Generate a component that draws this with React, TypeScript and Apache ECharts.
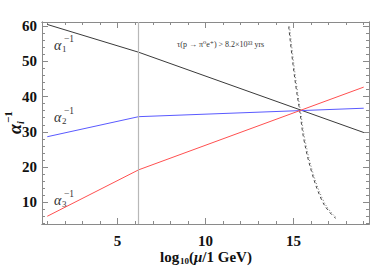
import React, { useEffect, useRef } from "react";
import * as echarts from "echarts";

const xKinks = [1, 6.2, 19];
const alpha1 = [60.5, 52.6, 29.8];
const alpha2 = [28.6, 34.3, 36.7];
const alpha3 = [6.0, 19.2, 42.7];
const vLineX = 6.2;
const boundX = [14.73, 14.98, 15.17, 15.36, 15.6, 16.06, 16.6, 17.0, 17.4];
const boundY = [59.9, 49, 41.9, 35.9, 27.7, 18.2, 10.7, 7.5, 5.4];
const boundX2 = [14.78, 15.03, 15.22, 15.4, 15.66, 16.12, 16.68, 17.08, 17.48];
const xMajor = [5, 10, 15];
const xMinor = [1, 2, 3, 4, 6, 7, 8, 9, 11, 12, 13, 14, 16, 17, 18, 19];
const yMajor = [10, 20, 30, 40, 50, 60];
const yMinor = [4, 6, 8, 12, 14, 16, 18, 22, 24, 26, 28, 32, 34, 36, 38, 42, 44, 46, 48, 52, 54, 56, 58];
const alphaLabels = ["1", "2", "3"];

const X_MIN = 0.7, X_MAX = 19.3, Y_MIN = 3.8, Y_MAX = 61.2;
const FRAME = "#8a8a8a";
const SERIF = "'Liberation Serif', 'DejaVu Serif', serif";

function xAxisDef(position: "bottom" | "top", ticks: number[], len: number, labels: boolean) {
  return {
    type: "value", position, min: X_MIN, max: X_MAX,
    axisLine: { show: true, onZero: false, lineStyle: { color: FRAME, width: 1 } },
    axisTick: { show: true, inside: true, length: len, customValues: ticks, lineStyle: { color: FRAME } },
    axisLabel: labels
      ? { show: true, customValues: ticks, margin: 9, fontFamily: SERIF, fontWeight: "bold", fontSize: 15, color: "#111" }
      : { show: false },
    splitLine: { show: false },
  };
}
function yAxisDef(position: "left" | "right", ticks: number[], len: number, labels: boolean) {
  return {
    type: "value", position, min: Y_MIN, max: Y_MAX,
    axisLine: { show: true, onZero: false, lineStyle: { color: FRAME, width: 1 } },
    axisTick: { show: true, inside: true, length: len, customValues: ticks, lineStyle: { color: FRAME } },
    axisLabel: labels
      ? { show: true, customValues: ticks, margin: 5, fontFamily: SERIF, fontWeight: "bold", fontSize: 15, color: "#111" }
      : { show: false },
    splitLine: { show: false },
  };
}

function alphaLabel(sub: string, x: number, y: number) {
  return {
    type: "group",
    x, y,
    children: [
      { type: "text", x: 0, y: 0, style: { text: "α", fontFamily: SERIF, fontStyle: "italic", fontSize: 14, fill: "#333", verticalAlign: "middle" } },
      { type: "text", x: 8, y: 4, style: { text: sub, fontFamily: SERIF, fontSize: 9, fill: "#333", verticalAlign: "middle" } },
      { type: "text", x: 10, y: -6, style: { text: "−1", fontFamily: SERIF, fontSize: 9.5, fill: "#333", verticalAlign: "middle" } },
    ],
  };
}

export default function App() {
  const ref = useRef<HTMLDivElement>(null);
  useEffect(() => {
    if (!ref.current) return;
    const chart = echarts.init(ref.current, null, { renderer: "svg" });
    const line = (vals: number[], color: string) => ({
      type: "line",
      data: xKinks.map((x, i) => [x, vals[i]]),
      symbol: "none",
      lineStyle: { color, width: 1 },
      z: 3,
    });
    chart.setOption({
      animation: false,
      grid: { left: 42, top: 22, right: 22, bottom: 43, outerBoundsMode: "none", containLabel: false },
      xAxis: [
        xAxisDef("bottom", xMajor, 6, true),
        xAxisDef("bottom", xMinor, 3, false),
        xAxisDef("top", xMajor, 6, false),
        xAxisDef("top", xMinor, 3, false),
      ],
      yAxis: [
        yAxisDef("left", yMajor, 6, true),
        yAxisDef("left", yMinor, 3, false),
        yAxisDef("right", yMajor, 6, false),
        yAxisDef("right", yMinor, 3, false),
      ],
      series: [
        {
          ...line(alpha1, "#3a3a3a"),
          markLine: {
            silent: true,
            symbol: "none",
            label: { show: false },
            lineStyle: { color: "#b8b8b8", width: 1.2, type: "solid" },
            data: [{ xAxis: vLineX }],
          },
        },
        line(alpha2, "#5a5aff"),
        line(alpha3, "#ff5050"),
        {
          type: "line",
          data: boundX.map((x, i) => [x, boundY[i]]),
          symbol: "none",
          smooth: 0.4,
          lineStyle: { color: "#444", width: 1, type: [3, 3] },
          z: 2,
        },
        {
          type: "line",
          data: boundX2.map((x, i) => [x, boundY[i]]),
          symbol: "none",
          smooth: 0.4,
          lineStyle: { color: "#777", width: 1, type: [1, 2] },
          z: 2,
        },
      ],
      graphic: [
        alphaLabel(alphaLabels[0], 54, 45),
        alphaLabel(alphaLabels[1], 54, 117),
        alphaLabel(alphaLabels[2], 54, 200),
        {
          type: "group", x: 15, y: 126, rotation: Math.PI / 2,
          children: [
            { type: "text", x: -8, y: 0, style: { text: "α", fontFamily: SERIF, fontWeight: "bold", fontStyle: "italic", fontSize: 18, fill: "#111", verticalAlign: "middle", align: "left" } },
            { type: "text", x: 2, y: 5, style: { text: "i", fontFamily: SERIF, fontWeight: "bold", fontStyle: "italic", fontSize: 10, fill: "#111", verticalAlign: "middle" } },
            { type: "text", x: 3, y: -7, style: { text: "−1", fontFamily: SERIF, fontWeight: "bold", fontSize: 11, fill: "#111", verticalAlign: "middle" } },
          ],
        },
        {
          type: "group", x: 160, y: 257,
          children: [
            { type: "text", x: 0, y: 0, style: { text: "log", fontFamily: SERIF, fontWeight: "bold", fontSize: 15, fill: "#111", verticalAlign: "middle" } },
            { type: "text", x: 20, y: 4, style: { text: "10", fontFamily: SERIF, fontWeight: "bold", fontSize: 9, fill: "#111", verticalAlign: "middle" } },
            {
              type: "text", x: 29, y: 0,
              style: {
                text: "{p|(}{m|μ}{p|/1 GeV)}", verticalAlign: "middle",
                rich: {
                  p: { fontFamily: SERIF, fontWeight: "bold", fontSize: 15, fill: "#111" },
                  m: { fontFamily: SERIF, fontWeight: "bold", fontStyle: "italic", fontSize: 15, fill: "#111" },
                },
              },
            },
          ],
        },
        {
          type: "text", x: 177, y: 40,
          style: { text: "τ(p → π⁰e⁺) > 8.2×10³³ yrs", fontFamily: SERIF, fontSize: 8, fill: "#333" },
        },
      ],
    });
    return () => chart.dispose();
  }, []);
  return <div ref={ref} style={{ width: 391, height: 267, position: "absolute", left: 0, top: 0 }} />;
}
